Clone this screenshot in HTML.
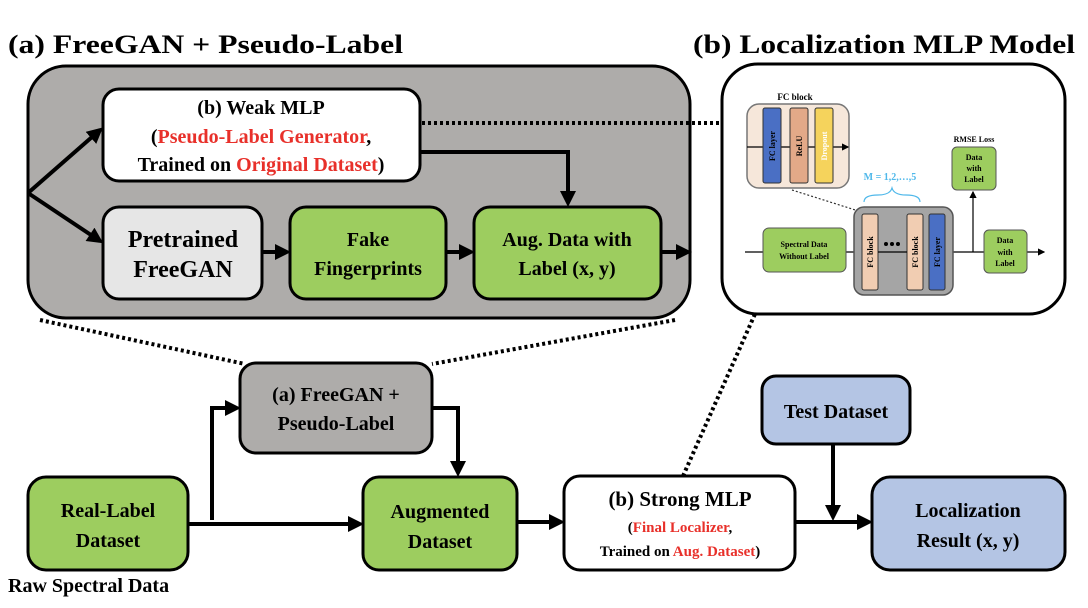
<!DOCTYPE html>
<html><head><meta charset="utf-8"><style>
html,body{margin:0;padding:0;background:#fff;}
svg{display:block;}
text{font-family:"Liberation Serif",serif;font-weight:bold;}
</style></head><body>
<svg width="1088" height="608" viewBox="0 0 1088 608" xmlns="http://www.w3.org/2000/svg">
<defs>
<marker id="ah" markerWidth="4" markerHeight="4" refX="3" refY="2" orient="auto" markerUnits="strokeWidth"><path d="M0,0 L4,2 L0,4 z" fill="#000"/></marker>
<marker id="ah2" markerWidth="6" markerHeight="6" refX="5" refY="3" orient="auto" markerUnits="strokeWidth"><path d="M0,0 L6,3 L0,6 z" fill="#000"/></marker>
</defs>

<!-- titles -->
<text x="8" y="53" font-size="26" textLength="395" lengthAdjust="spacingAndGlyphs">(a) FreeGAN + Pseudo-Label</text>
<text x="693" y="53" font-size="26" textLength="382" lengthAdjust="spacingAndGlyphs">(b) Localization MLP Model</text>

<!-- dotted lines -->
<g stroke="#000" stroke-width="4" stroke-dasharray="3,3" fill="none">
<line x1="40" y1="320" x2="245" y2="364"/>
<line x1="675" y1="320" x2="432" y2="364"/>
<line x1="683" y1="476" x2="755" y2="314"/>
</g>

<!-- panel a -->
<rect x="28" y="66" width="662" height="252" rx="38" fill="#aeacaa" stroke="#000" stroke-width="3"/>
<line x1="422" y1="123" x2="722" y2="123" stroke="#000" stroke-width="4" stroke-dasharray="3,3"/>
<g stroke="#000" stroke-width="4" fill="none">
<line x1="28" y1="193" x2="100" y2="130" marker-end="url(#ah)"/>
<line x1="28" y1="193" x2="100" y2="241" marker-end="url(#ah)"/>
<polyline points="420,152 568,152 568,203" marker-end="url(#ah)"/>
<line x1="262" y1="252" x2="287" y2="252" marker-end="url(#ah)"/>
<line x1="446" y1="252" x2="471" y2="252" marker-end="url(#ah)"/>
<line x1="661" y1="252" x2="688" y2="252" marker-end="url(#ah)"/>
</g>
<rect x="103" y="89" width="317" height="92" rx="16" fill="#fff" stroke="#000" stroke-width="3"/>
<text x="261" y="114" font-size="20" text-anchor="middle">(b) Weak MLP</text>
<text x="261" y="143" font-size="20" text-anchor="middle">(<tspan fill="#e8302a">Pseudo-Label Generator</tspan>,</text>
<text x="261" y="171" font-size="20" text-anchor="middle">Trained on <tspan fill="#e8302a">Original Dataset</tspan>)</text>
<rect x="103" y="207" width="159" height="92" rx="16" fill="#e6e6e6" stroke="#000" stroke-width="3"/>
<text x="183" y="247" font-size="24" text-anchor="middle">Pretrained</text>
<text x="183" y="277" font-size="24" text-anchor="middle">FreeGAN</text>
<rect x="290" y="207" width="156" height="92" rx="16" fill="#9dcd5f" stroke="#000" stroke-width="3"/>
<text x="368" y="246" font-size="20" text-anchor="middle">Fake</text>
<text x="368" y="275" font-size="20" text-anchor="middle">Fingerprints</text>
<rect x="474" y="207" width="187" height="92" rx="16" fill="#9dcd5f" stroke="#000" stroke-width="3"/>
<text x="567" y="246" font-size="20" text-anchor="middle">Aug. Data with</text>
<text x="567" y="275" font-size="20" text-anchor="middle">Label (x, y)</text>

<!-- panel b -->
<rect x="722" y="64" width="343" height="250" rx="36" fill="#fff" stroke="#000" stroke-width="3"/>
<text x="795" y="100" font-size="9" text-anchor="middle">FC block</text>
<rect x="747" y="104" width="102" height="84" rx="12" fill="#f6e7da" stroke="#777" stroke-width="1.5"/>
<line x1="747" y1="147" x2="848" y2="147" stroke="#000" stroke-width="1.2" marker-end="url(#ah2)"/>
<rect x="763" y="108" width="18" height="75" rx="2" fill="#4a6fc4" stroke="#333" stroke-width="1"/>
<rect x="790" y="108" width="18" height="75" rx="2" fill="#e3a988" stroke="#333" stroke-width="1"/>
<rect x="815" y="108" width="18" height="75" rx="2" fill="#f5d35c" stroke="#333" stroke-width="1"/>
<text font-size="8" transform="translate(775,146) rotate(-90)" text-anchor="middle">FC layer</text>
<text font-size="8" transform="translate(802,146) rotate(-90)" text-anchor="middle">ReLU</text>
<text font-size="8" fill="#fff" transform="translate(827,146) rotate(-90)" text-anchor="middle">Dropout</text>
<line x1="792" y1="190" x2="868" y2="214" stroke="#333" stroke-width="1.2" stroke-dasharray="2,2"/>
<text x="890" y="180" font-size="10" fill="#4fb8ea" text-anchor="middle">M = 1,2,…,5</text>
<path d="M864,202 Q864,195 878,195 Q890,195 892,188 Q894,195 906,195 Q920,195 920,202" stroke="#4fb8ea" stroke-width="1.2" fill="none"/>
<line x1="745" y1="252" x2="1044" y2="252" stroke="#000" stroke-width="1.2" marker-end="url(#ah2)"/>
<line x1="973" y1="252" x2="973" y2="192" stroke="#000" stroke-width="1.2" marker-end="url(#ah2)"/>
<rect x="854" y="207" width="99" height="88" rx="10" fill="#a5a5a5" stroke="#555" stroke-width="1.5"/>
<rect x="862" y="214" width="16" height="76" rx="2" fill="#f1cdb2" stroke="#333" stroke-width="1"/>
<rect x="907" y="214" width="16" height="76" rx="2" fill="#f1cdb2" stroke="#333" stroke-width="1"/>
<rect x="929" y="214" width="16" height="76" rx="2" fill="#4a6fc4" stroke="#333" stroke-width="1"/>
<line x1="878" y1="252" x2="907" y2="252" stroke="#000" stroke-width="1.2"/>
<text font-size="8" transform="translate(873,252) rotate(-90)" text-anchor="middle">FC block</text>
<text font-size="8" transform="translate(918,252) rotate(-90)" text-anchor="middle">FC block</text>
<text font-size="8" transform="translate(940,252) rotate(-90)" text-anchor="middle">FC layer</text>
<circle cx="886" cy="244" r="2" fill="#000"/><circle cx="892" cy="244" r="2" fill="#000"/><circle cx="898" cy="244" r="2" fill="#000"/>
<rect x="763" y="228" width="83" height="44" rx="6" fill="#9dcd5f" stroke="#555" stroke-width="1"/>
<text x="804" y="247" font-size="8" text-anchor="middle">Spectral Data</text>
<text x="804" y="259" font-size="8" text-anchor="middle">Without Label</text>
<text x="974" y="142" font-size="8" text-anchor="middle">RMSE Loss</text>
<rect x="952" y="147" width="44" height="43" rx="5" fill="#9dcd5f" stroke="#555" stroke-width="1"/>
<text x="974" y="160" font-size="8" text-anchor="middle">Data</text>
<text x="974" y="171" font-size="8" text-anchor="middle">with</text>
<text x="974" y="182" font-size="8" text-anchor="middle">Label</text>
<rect x="984" y="230" width="43" height="43" rx="5" fill="#9dcd5f" stroke="#555" stroke-width="1"/>
<text x="1005" y="243" font-size="8" text-anchor="middle">Data</text>
<text x="1005" y="255" font-size="8" text-anchor="middle">with</text>
<text x="1005" y="266" font-size="8" text-anchor="middle">Label</text>

<!-- bottom flow -->
<g stroke="#000" stroke-width="4" fill="none">
<line x1="188" y1="524" x2="360" y2="524" marker-end="url(#ah)"/>
<polyline points="212,520 212,408 237,408" marker-end="url(#ah)"/>
<polyline points="432,408 458,408 458,473" marker-end="url(#ah)"/>
<line x1="517" y1="522" x2="561" y2="522" marker-end="url(#ah)"/>
<line x1="795" y1="522" x2="869" y2="522" marker-end="url(#ah)"/>
<line x1="833" y1="443" x2="833" y2="517" marker-end="url(#ah)"/>
</g>
<rect x="28" y="477" width="160" height="93" rx="18" fill="#9dcd5f" stroke="#000" stroke-width="3"/>
<text x="108" y="517" font-size="20" text-anchor="middle">Real-Label</text>
<text x="108" y="547" font-size="20" text-anchor="middle">Dataset</text>
<text x="8" y="592" font-size="20">Raw Spectral Data</text>
<rect x="240" y="363" width="192" height="90" rx="16" fill="#aeacaa" stroke="#000" stroke-width="3"/>
<text x="336" y="401" font-size="20" text-anchor="middle">(a) FreeGAN +</text>
<text x="336" y="430" font-size="20" text-anchor="middle">Pseudo-Label</text>
<rect x="363" y="477" width="154" height="93" rx="16" fill="#9dcd5f" stroke="#000" stroke-width="3"/>
<text x="440" y="518" font-size="20" text-anchor="middle">Augmented</text>
<text x="440" y="548" font-size="20" text-anchor="middle">Dataset</text>
<rect x="564" y="476" width="231" height="94" rx="16" fill="#fff" stroke="#000" stroke-width="3"/>
<text x="680" y="506" font-size="21" text-anchor="middle">(b) Strong MLP</text>
<text x="680" y="532" font-size="15" text-anchor="middle">(<tspan fill="#e8302a">Final Localizer</tspan>,</text>
<text x="680" y="556" font-size="15" text-anchor="middle">Trained on <tspan fill="#e8302a">Aug. Dataset</tspan>)</text>
<rect x="762" y="376" width="148" height="68" rx="14" fill="#b4c5e4" stroke="#000" stroke-width="3"/>
<text x="836" y="418" font-size="20" text-anchor="middle">Test Dataset</text>
<rect x="872" y="477" width="193" height="93" rx="18" fill="#b4c5e4" stroke="#000" stroke-width="3"/>
<text x="968" y="517" font-size="20" text-anchor="middle">Localization</text>
<text x="968" y="547" font-size="20" text-anchor="middle">Result (x, y)</text>
</svg>
</body></html>
